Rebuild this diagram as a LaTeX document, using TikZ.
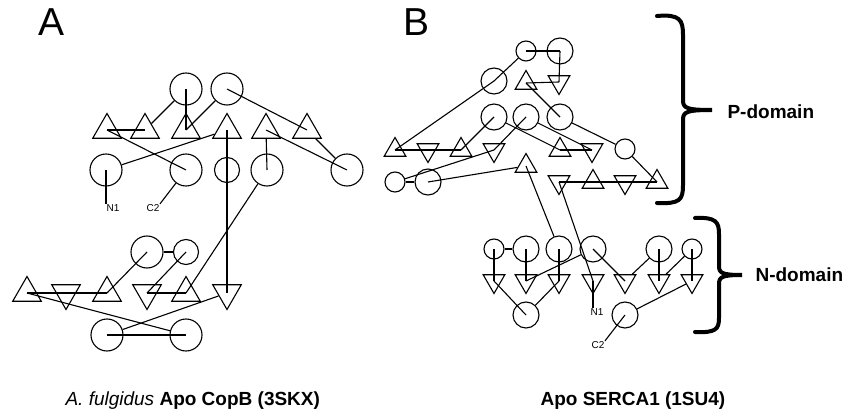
\documentclass[tikz,border=0pt]{standalone}
\usepackage{fontspec}
\setmainfont{Liberation Sans}
\usetikzlibrary{shapes.geometric}
\tikzset{
  helix/.style = {circle, draw, inner sep = 0pt, minimum size = 32pt},
  shelix/.style = {helix, minimum size = 25pt},
  upstr/.style = {regular polygon, regular polygon sides = 3, draw, inner sep = 0pt, minimum size = 33pt},
  dnstr/.style = {upstr, shape border rotate = 180},
  bhelix/.style = {helix, minimum size = 26pt},
  bshelix/.style = {helix, minimum size = 20pt},
  bupstr/.style = {upstr, minimum size = 25pt},
  bdnstr/.style = {dnstr, minimum size = 25pt},
  term/.style = {font = \fontsize{10}{10}\selectfont, inner sep = 0pt},
  capt/.style = {font = \fontsize{19}{19}\selectfont\bfseries, inner sep = 0pt},
  brace/.style = {line width = 4pt, line cap = round}
}

\begin{document}
\begin{tikzpicture}[x = 1pt, y = -1pt, line width = 1.1pt]
\useasboundingbox (0,0) rectangle (846,414);
\node [font = \fontsize{39}{39}\selectfont] (labA) at (52,22) {A};
\node [font = \fontsize{39}{39}\selectfont] (labB) at (417,22) {B};

% panel A, top
\node [helix] (hA1) at (186,89) {};
\node [helix] (hA2) at (227,89) {};
\node [upstr] (sA1) at (107,130) {};
\node [upstr] (sA2) at (145,130) {};
\node [upstr] (sA3) at (186,130) {};
\node [upstr] (sA4) at (227,130) {};
\node [upstr] (sA5) at (266,130) {};
\node [upstr] (sA6) at (307,130) {};
\node [helix] (hA3) at (106,170) {};
\node [helix] (hA4) at (186,170) {};
\node [shelix] (hA5) at (227,170) {};
\node [helix] (hA6) at (267,170) {};
\node [helix] (hA7) at (347,170) {};
\node [term] (n1A) at (113,208) {N1};
\node [term] (c2A) at (153,208) {C2};
% panel A, bottom
\node [helix] (hA8) at (147,252) {};
\node [shelix] (hA9) at (186,252) {};
\node [upstr] (sA7) at (27,293) {};
\node [dnstr] (sA8) at (66,293) {};
\node [upstr] (sA9) at (107,293) {};
\node [dnstr] (sA10) at (147,293) {};
\node [upstr] (sA11) at (186,293) {};
\node [dnstr] (sA12) at (227,293) {};
\node [helix] (hA10) at (107,335) {};
\node [helix] (hA11) at (186,335) {};

\draw (sA1.center) -- (sA2.center);
\draw (sA1.center) -- (hA4.center);
\draw (hA3) -- (sA4);
\draw (sA2) -- (hA1);
\draw (hA1.center) -- (sA3.center);
\draw (hA2) -- (sA3.center);
\draw (hA2.center) -- (sA6.center);
\draw (sA4.center) -- (sA12.center);
\draw (sA5.center) -- (hA7.center);
\draw (sA5) -- (hA6.center);
\draw (sA6) -- (hA7);
\draw (hA6) -- (sA11.center);
\draw (hA3.center) -- (hA3.center |- n1A.north);
\draw (hA4) -- (c2A.north east);
\draw (sA7.center) -- (sA8.center) -- (sA9.center);
\draw (hA8.center) -- (sA9.center);
\draw (hA8) -- (hA9);
\draw (hA9.center) -- (sA10.center);
\draw (sA10.center) -- (sA11.center);
\draw (sA7.center) -- (hA11);
\draw (sA12) -- (hA10);
\draw (hA10.center) -- (hA11.center);

% panel B, P-domain
\node [bshelix] (hB1) at (526,51) {};
\node [bhelix] (hB2) at (560,51) {};
\node [bhelix] (hB3) at (494,81) {};
\node [bupstr] (sB1) at (526,83) {};
\node [bdnstr] (sB2) at (559,82) {};
\node [bhelix] (hB4) at (494,117) {};
\node [bhelix] (hB5) at (526,117) {};
\node [bhelix] (hB6) at (560,117) {};
\node [bupstr] (sB3) at (395,150) {};
\node [bdnstr] (sB4) at (428,150) {};
\node [bupstr] (sB5) at (461,150) {};
\node [bdnstr] (sB6) at (494,150) {};
\node [bupstr] (sB7) at (560,150) {};
\node [bdnstr] (sB8) at (592,150) {};
\node [bshelix] (hB7) at (625,149) {};
\node [bshelix] (hB8) at (395,182) {};
\node [bhelix] (hB9) at (428,182) {};
\node [bupstr] (sB9) at (526,166) {};
\node [bdnstr] (sB10) at (559,182) {};
\node [bupstr] (sB11) at (593,182) {};
\node [bdnstr] (sB12) at (625,182) {};
\node [bupstr] (sB13) at (657,182) {};
% panel B, N-domain
\node [bshelix] (hB10) at (494,249) {};
\node [bhelix] (hB11) at (526,249) {};
\node [bhelix] (hB12) at (559,249) {};
\node [bhelix] (hB13) at (593,249) {};
\node [bhelix] (hB14) at (659,249) {};
\node [bshelix] (hB15) at (692,249) {};
\foreach \n/\x in {14/494, 15/526, 16/559, 17/593, 18/625, 19/659, 20/692}
  \node [bdnstr] (sB\n) at (\x,281) {};
\node [bhelix] (hB16) at (526,315) {};
\node [bhelix] (hB17) at (625,315) {};
\node [term] (n1B) at (597,312) {N1};
\node [term] (c2B) at (598,345) {C2};

\draw (hB1.center) -- (hB2.center);
\draw (hB1) -- (hB3.center);
\draw (hB2.center) -- (sB2.center);
\draw (sB1.center) -- (sB2.center);
\draw (sB1.center) -- (hB6.center);
\draw (hB3.center) -- (sB3.center);
\draw (sB3.center) -- (sB4.center) -- (sB5.center);
\draw (hB4.center) -- (sB5.center);
\draw (hB5.center) -- (sB6.center);
\draw (hB4) -- (sB7.center);
\draw (hB5) -- (sB8.center);
\draw (hB6) -- (hB7);
\draw (sB7.center) -- (sB8.center);
\draw (hB7) -- (sB13.center);
\draw (sB10.center) -- (sB11.center) -- (sB12.center) -- (sB13.center);
\draw (hB8) -- (hB9);
\draw (hB8) -- (sB6.center);
\draw (hB9.center) -- (sB9);
\draw (sB9.center) -- (hB12);
\draw (sB10.center) -- (sB17.center);
\draw (hB10) -- (hB11);
\foreach \h/\s in {10/14, 11/15, 12/16, 14/19, 15/20}
  \draw (hB\h.center) -- (sB\s.center);
\draw (hB13.center) -- (sB18.center);
\draw (hB13) -- (sB15.center);
\draw (sB14.center) -- (hB16.center);
\draw (sB16.center) -- (hB16);
\draw (sB18) -- (hB14);
\draw (hB15) -- (sB19);
\draw (sB20) -- (hB17);
\draw (sB17.center) -- (sB17.center |- n1B.north);
\draw (hB17.center) -- (c2B.north east);

% domain brackets
\draw [brace] (657,16) .. controls (680,14) and (683,20) .. (683,35) -- (683,100)
  .. controls (683,108) and (686,110) .. (712,110)
  .. controls (686,110) and (683,112) .. (683,120) -- (683,185)
  .. controls (683,200) and (680,204) .. (657,203);
\node [capt, anchor = west] (pdom) at (727,112) {P-domain};
\draw [brace] (695,218) .. controls (716,217) and (719,222) .. (719,234) -- (719,266)
  .. controls (719,273) and (722,275) .. (742,275)
  .. controls (722,275) and (719,277) .. (719,284) -- (719,318)
  .. controls (719,329) and (716,333) .. (695,332);
\node [capt, anchor = west] (ndom) at (755,275) {N-domain};

\node [capt, anchor = base west] (captA) at (65,405) {\mdseries\itshape A. fulgidus \upshape\bfseries Apo CopB (3SKX)};
\node [capt, anchor = base west] (captB) at (540,405) {Apo SERCA1 (1SU4)};
\end{tikzpicture}
\end{document}
